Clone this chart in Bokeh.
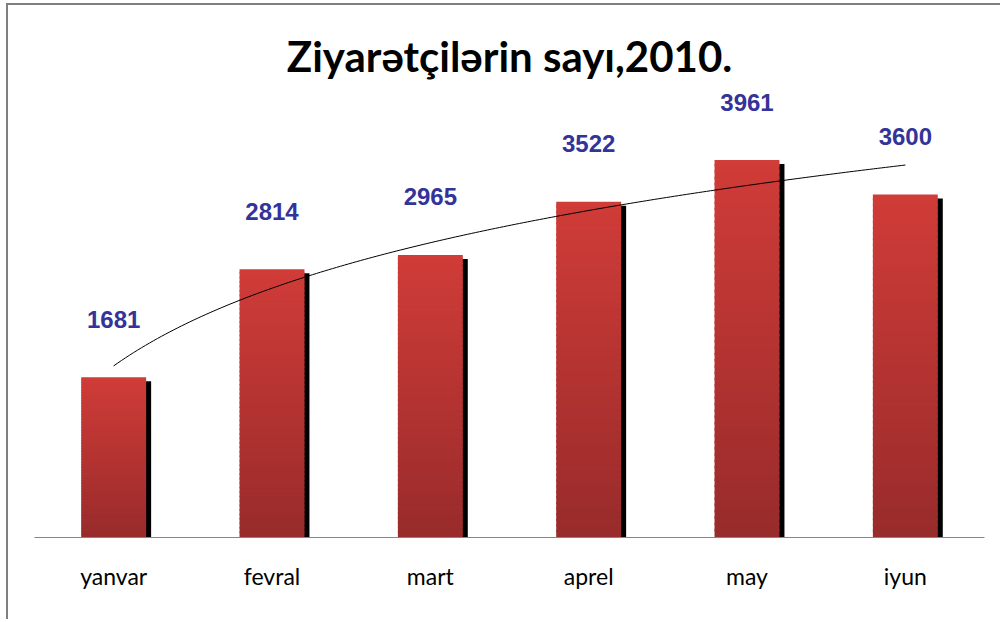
import numpy as np
from bokeh.plotting import figure
from bokeh.models import Range1d, FixedTicker, ColumnDataSource
from bokeh.core.properties import value
from bokeh.embed import file_html
from bokeh.resources import INLINE

title = "Ziyarətçilərin sayı,2010."
months = ["yanvar", "fevral", "mart", "aprel", "may", "iyun"]
visitors = [1681, 2814, 2965, 3522, 3961, 3600]

n = len(months)
xs = np.arange(n) + 0.5
vals = np.array(visitors, dtype=float)

W, H = 994, 616
LEFT, RIGHT, TOP, BOTTOM = 26, 18, 83, 84
px_per_y = 0.0953
ymax = (H - TOP - BOTTOM) / px_per_y

p = figure(width=W, height=H, output_backend="svg", toolbar_location=None,
           x_range=Range1d(0, n), y_range=Range1d(0, ymax),
           min_border_left=LEFT, min_border_right=RIGHT, min_border_bottom=BOTTOM,
           min_border_top=TOP, title=title)
p.styles = {"margin-left": "6px", "margin-top": "3px",
            "border-left": "2px solid #7f7f7f", "border-top": "2px solid #7f7f7f"}
p.background_fill_color = "white"
p.border_fill_color = "white"
p.outline_line_color = None
p.grid.visible = False
p.yaxis.visible = False

p.title.align = "center"
p.title.text_font = "Lato"
p.title.text_font_size = "42px"
p.title.text_font_style = "bold"
p.title.text_color = "black"
p.title.standoff = 15

xa = p.xaxis[0]
xa.ticker = FixedTicker(ticks=list(xs))
xa.major_label_overrides = {float(x): m for x, m in zip(xs, months)}
xa.major_tick_line_color = None
xa.minor_tick_line_color = None
xa.axis_line_color = "#868686"
xa.axis_line_width = 1
xa.major_label_text_font = "Lato"
xa.major_label_text_font_size = "23px"
xa.major_label_text_color = "black"
xa.major_label_standoff = 18

bw = 0.41
px_per_x = (W - LEFT - RIGHT) / n
dx = 5 / px_per_x
dy = 4 / px_per_y

# shadow
p.vbar(x=xs + dx, top=vals - dy, bottom=0, width=bw, fill_color="black", line_color=None)

# gradient bars
top_c = np.array([208, 60, 56])
bot_c = np.array([152, 43, 43])
N = 60
sx, sb, st, sc = [], [], [], []
for x, v in zip(xs, vals):
    for k in range(N):
        f0 = k / N
        f1 = (k + 1) / N
        c = bot_c + (top_c - bot_c) * ((f0 + f1) / 2)
        sx.append(x)
        sb.append(v * f0)
        st.append(min(v, v * f1 + v * 0.006))
        sc.append("#%02x%02x%02x" % tuple(int(round(t)) for t in c))
p.vbar(x=sx, bottom=sb, top=st, width=bw, fill_color=sc, line_color=None)

# logarithmic trend line (least squares fit of value vs ln(index))
idx = np.arange(1, n + 1)
a, b = np.polyfit(np.log(idx), vals, 1)
tx = np.linspace(1, n, 200)
ty = a * np.log(tx) + b
p.line(tx - 0.5, ty, line_color="black", line_width=1)

# value labels
src = ColumnDataSource(dict(x=xs, y=vals, t=[str(v) for v in visitors]))
p.text(x="x", y="y", text="t", source=src, y_offset=-58, text_align="center",
       text_baseline="middle", text_font=value("Liberation Sans"), text_font_style="bold",
       text_font_size="24px", text_color="#333399")

open("out.html", "w").write(file_html(p, INLINE))
